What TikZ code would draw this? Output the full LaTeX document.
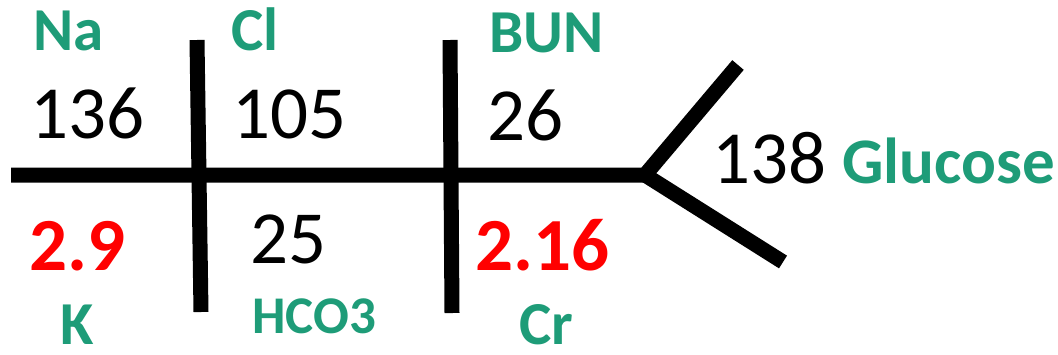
\documentclass[tikz,border=0pt]{standalone}
\usepackage{fontspec}
\setmainfont{Carlito}
\usepackage{tikz}
\usetikzlibrary{positioning}
\definecolor{labgreen}{HTML}{1E9C78}
\definecolor{labred}{HTML}{FF0000}

\begin{document}
\begin{tikzpicture}[x=1pt,y=-1pt,
  bone/.style={line width=15pt,line cap=butt},
  lab/.style={inner sep=0pt,anchor=base west,text depth=0pt,text=labgreen,font=\fontsize{61}{66}\selectfont\bfseries},
  val/.style={inner sep=0pt,anchor=base west,font=\fontsize{75}{80}\selectfont},
  bad/.style={val,text=labred,font=\fontsize{75}{80}\selectfont\bfseries}]
\useasboundingbox (0,0) rectangle (1058,354);
% skeleton
\coordinate (left) at (11,175);
\coordinate (fork) at (645,175);
\coordinate (up) at (738,65);
\coordinate (down) at (783,262);
\coordinate (s1top) at (197,40);
\coordinate (s1bot) at (201,312);
\coordinate (s2top) at (450,40);
\coordinate (s2bot) at (452,313);
\draw[bone] (left) -- (fork) -- (up);
\draw[bone] (fork) -- (down);
\draw[bone] (s1top) -- (s1bot);
\draw[bone] (s2top) -- (s2bot);
% names
\node[lab] (na) at (33,50) {Na};
\node[lab] (cl) at (231,50) {Cl};
\node[lab] (bun) at (489,52) {BUN};
\node[lab,font=\fontsize{65}{70}\selectfont\bfseries] (glu) at (842,183) {Glucose};
\node[lab] (k) at (60,344) {K};
\node[lab,font=\fontsize{53}{58}\selectfont\bfseries] (hco) at (252,333) {HCO3};
\node[lab] (cr) at (519,344) {Cr};
% values
\node[val] (nav) at (30,138) {136};
\node[val] (clv) at (232,138) {105};
\node[val] (bunv) at (487,140) {26};
\node[val] (gluv) at (712,183) {138};
\node[bad] (kv) at (29,270) {2.9};
\node[val] (hcov) at (250,263) {25};
\node[bad] (crv) at (475,270) {2.16};
\end{tikzpicture}
\end{document}
